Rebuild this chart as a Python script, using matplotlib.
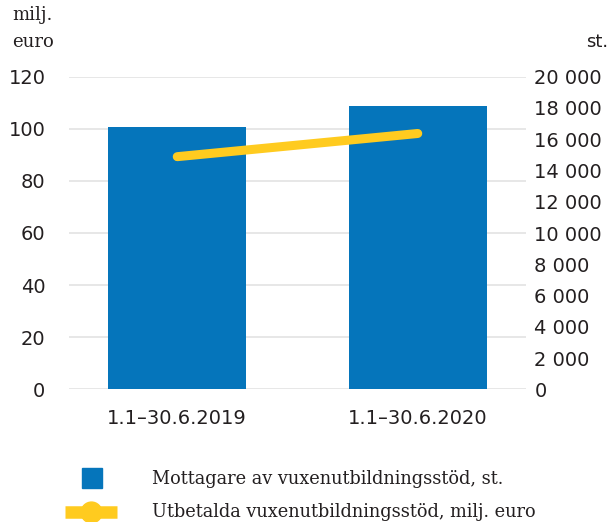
import matplotlib
matplotlib.use("Agg")
import matplotlib.pyplot as plt
from matplotlib.patches import Rectangle
from matplotlib.lines import Line2D
from matplotlib.ticker import FuncFormatter

periods = ["1.1–30.6.2019", "1.1–30.6.2020"]
recipients = [16750, 18150]      # st. (right axis)
paid_out = [89.3, 98.2]          # milj. euro (left axis)
left_ticks = [0, 20, 40, 60, 80, 100, 120]
right_ticks = [0, 2000, 4000, 6000, 8000, 10000, 12000, 14000, 16000, 18000, 20000]
bar_label = "Mottagare av vuxenutbildningsstöd, st."
line_label = "Utbetalda vuxenutbildningsstöd, milj. euro"

blue = "#0575bb"
yellow = "#ffcb1f"
txt = "#231f20"

fig = plt.figure(figsize=(6.11, 5.22), dpi=100)
ax = fig.add_axes([69 / 611, 1 - 389.3 / 522, 457 / 611, 312.6 / 522])
ax2 = ax.twinx()   # bars, st.
ax3 = ax.twinx()   # line, milj. euro

x = list(range(len(periods)))

# left axis: grid + ticks
ax.set_ylim(0, 120)
ax.set_yticks(left_ticks)
ax.grid(axis="y", color="#e3e3e3", linewidth=1.2)
ax.set_axisbelow(True)
ax.set_xlim(-0.45, 1.45)
ax.set_xticks(x)
ax.set_xticklabels(periods, fontsize=14, color=txt)
ax.tick_params(axis="y", length=0, pad=17, labelsize=14, labelcolor=txt)
ax.tick_params(axis="x", length=0, pad=14)

# right axis: bars
ax2.bar(x, recipients, width=0.573, color=blue, zorder=2)
ax2.set_ylim(0, 20000)
ax2.set_yticks(right_ticks)
ax2.yaxis.set_major_formatter(FuncFormatter(lambda v, p: f"{int(v):,}".replace(",", " ")))
ax2.tick_params(axis="y", length=0, pad=6, labelsize=14, labelcolor=txt)

# line on top
ax3.plot(x, paid_out, color=yellow, linewidth=6.5, solid_capstyle="round")
ax3.set_ylim(0, 120)
ax3.set_yticks([])

for a in (ax, ax2, ax3):
    for s in a.spines.values():
        s.set_visible(False)

fig.text(12 / 611, 1 - 15 / 522, "milj.", fontsize=13, family="DejaVu Serif", color=txt, va="center")
fig.text(12 / 611, 1 - 42 / 522, "euro", fontsize=13, family="DejaVu Serif", color=txt, va="center")
fig.text(608 / 611, 1 - 42 / 522, "st.", fontsize=13, color=txt, va="center", ha="right")

# legend
fig.patches.append(Rectangle((82 / 611, 1 - 488 / 522), 20 / 611, 20 / 522,
                             transform=fig.transFigure, color=blue))
fig.lines.append(Line2D([65 / 611, 117 / 611], [1 - 512 / 522] * 2, transform=fig.transFigure,
                        color=yellow, linewidth=9, solid_capstyle="butt"))
fig.lines.append(Line2D([91 / 611], [1 - 512 / 522], transform=fig.transFigure,
                        color=yellow, marker="o", markersize=15, linestyle="none"))
fig.text(152 / 611, 1 - 479 / 522, bar_label, fontsize=12.8, family="DejaVu Serif", color=txt, va="center")
fig.text(152 / 611, 1 - 512 / 522, line_label, fontsize=12.8, family="DejaVu Serif", color=txt, va="center")

fig.savefig("out.png", dpi=100)
